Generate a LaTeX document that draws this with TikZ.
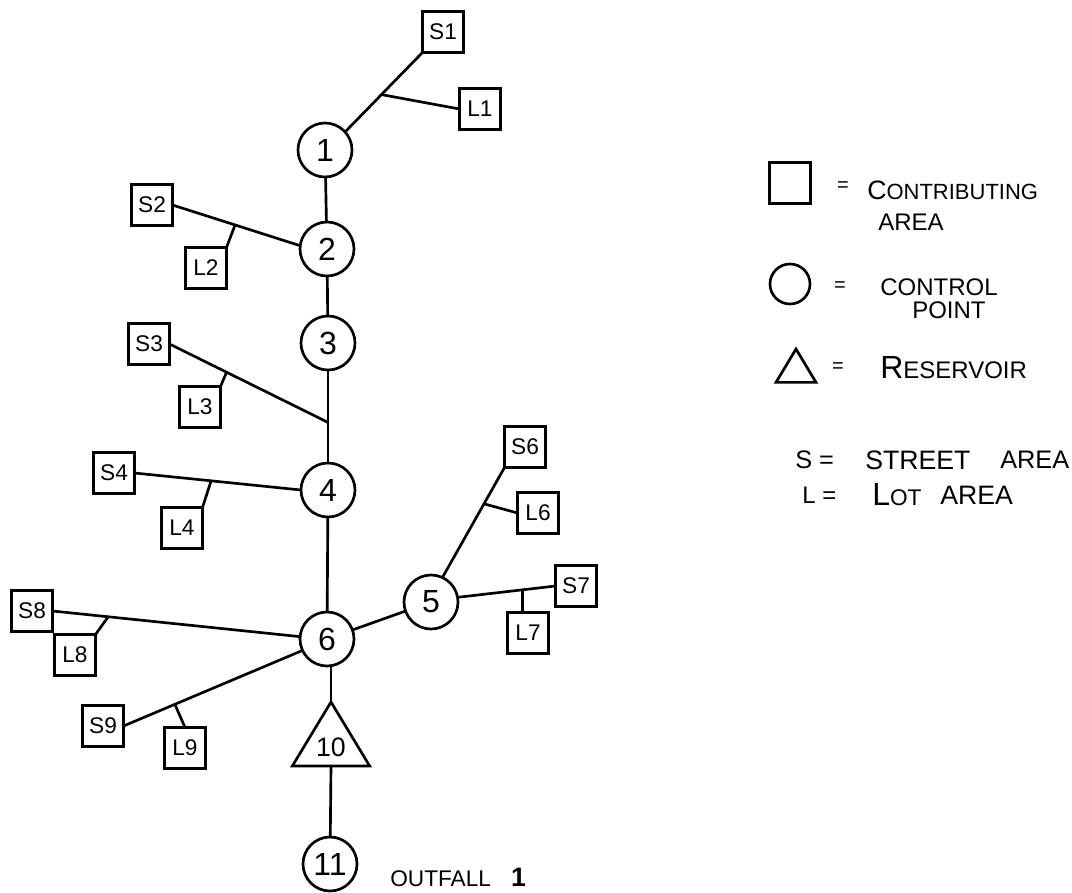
\documentclass[tikz,border=0pt]{standalone}
\usepackage{fontspec}
\setmainfont{Liberation Sans}
\usetikzlibrary{shapes.geometric,calc}
\newcommand{\fsz}[1]{\fontsize{#1}{#1}\selectfont}
\tikzset{
  wire/.style={line width=2pt,line cap=round,black},
  areabox/.style={draw,line width=2pt,minimum size=30.75pt,inner sep=0pt,outer sep=0pt,font=\fsz{17}},
  cpoint/.style={draw,circle,line width=2pt,minimum size=40.5pt,inner sep=0pt,outer sep=0pt,font=\fsz{24}},
  resv/.style={draw,isosceles triangle,isosceles triangle apex angle=62,isosceles triangle stretches,shape border rotate=90,line width=2pt,inner sep=0pt,outer sep=0pt,font=\fsz{20}},
  legtext/.style={anchor=west,inner sep=0pt,font=\fsz{18}},
  legeq/.style={inner sep=0pt,font=\fsz{15}},
}
\begin{document}
\begin{tikzpicture}[x=0.75pt,y=-0.75pt]
\useasboundingbox (0,0) rectangle (1072,893);
% control points
\node[cpoint] (c1) at (325,150) {1};
\node[cpoint] (c2) at (327,249) {2};
\node[cpoint] (c3) at (328,343) {3};
\node[cpoint] (c4) at (328,490) {4};
\node[cpoint] (c5) at (431,602) {5};
\node[cpoint] (c6) at (327,639) {6};
\node[cpoint] (c11) at (330,864) {11};
\node[resv,minimum width=58pt,minimum height=48pt,anchor=apex] (r10) at (331,702) {\raisebox{3pt}{10}};
% areas
\node[areabox] (S1) at (443,32) {S1};
\node[areabox] (L1) at (480,109) {L1};
\node[areabox] (S2) at (152,205) {S2};
\node[areabox] (L2) at (206,268) {L2};
\node[areabox] (S3) at (149,344) {S3};
\node[areabox] (L3) at (200,407) {L3};
\node[areabox] (S4) at (114,473) {S4};
\node[areabox] (L4) at (182,528) {L4};
\node[areabox] (S6) at (525,447) {S6};
\node[areabox] (L6) at (538,513) {L6};
\node[areabox] (S7) at (576,586) {S7};
\node[areabox] (L7) at (528,633) {L7};
\node[areabox] (S8) at (32,611) {S8};
\node[areabox] (L8) at (75,655) {L8};
\node[areabox] (S9) at (103,726) {S9};
\node[areabox] (L9) at (185,748) {L9};
% junctions on the street lines
\coordinate (j1) at ($(S1.south west)!0.53!(c1.42)$);
\coordinate (j2) at ($(S2.east)!0.49!(c2.173)$);
\coordinate (j3b) at ($(c3)!0.54!(c4)$);
\coordinate (j3) at ($(S3.east)!0.36!(j3b)$);
\coordinate (j4) at ($(S4.east)!0.46!(c4.west)$);
\coordinate (j6) at ($(S6.south west)!0.33!(c5.65)$);
\coordinate (j7) at ($(c5.10)!0.66!(S7.west)$);
\coordinate (j8) at ($(S8.east)!0.225!(c6.175)$);
\coordinate (j9) at ($(S9.east)!0.287!(c6.205)$);
% main stem
\draw[wire] (c1) -- (c2);
\draw[wire] (c2) -- (c3);
\draw[wire] (c3) -- (c4);
\draw[wire] (c4) -- (c6);
\draw[wire] (c6) -- (c5);
\draw[wire] (c6.south) ++(4,0) -- (r10.apex);
\draw[wire] (r10.lower side) -- (c11);
% laterals
\draw[wire] (S1.south west) -- (c1.42);
\draw[wire] (j1) -- (L1.west);
\draw[wire] (S2.east) -- (c2.173);
\draw[wire] (j2) -- (L2.north east);
\draw[wire] (S3.east) -- (j3b);
\draw[wire] (j3) -- (L3.north east);
\draw[wire] (S4.east) -- (c4.west);
\draw[wire] (j4) -- (L4.north east);
\draw[wire] (S6.south west) -- (c5.65);
\draw[wire] (j6) -- (L6.west);
\draw[wire] (c5.10) -- (S7.west);
\draw[wire] (j7) -- (j7 |- L7.north);
\draw[wire] (S8.east) -- (c6.175);
\draw[wire] (j8) -- (L8.north east);
\draw[wire] (S9.east) -- (c6.205);
\draw[wire] (j9) -- (L9.north);
% outfall
\node[legtext,font=\fsz{17}] (out) at (390,877) {OUTFALL\hspace{15pt}{\fsz{20}\textbf{1}}};
% legend
\node[areabox] (legS) at (790,183) {};
\node[cpoint,minimum size=30pt] (legC) at (790,284) {};
\node[resv,minimum width=30pt,minimum height=25pt,anchor=apex] (legR) at (796,349) {};
\node[legeq] (e1) at (843,187) {=};
\node[legtext] (t1) at (867,190) {\fsz{20}C\fsz{16.5}ONTRIBUTING};
\node[legtext] (t1b) at (878,222) {AREA};
\node[legeq] (e2) at (840,287) {=};
\node[legtext] (t2) at (880,287) {CONTROL};
\node[legtext] (t2b) at (912,310) {POINT};
\node[legeq] (e3) at (838,368) {=};
\node[legtext] (t3) at (880,368) {\fsz{24}R\fsz{18}ESERVOIR};
\node[legtext,font=\fsz{19}] (t4) at (795,460) {S =};
\node[legtext,font=\fsz{20}] (t4b) at (865,460) {STREET};
\node[legtext,font=\fsz{19}] (t4c) at (1000,460) {AREA};
\node[legtext,font=\fsz{18}] (t5) at (802,495) {L =};
\node[legtext] (t5b) at (872,495) {\fsz{24}L\fsz{17}OT};
\node[legtext,font=\fsz{20}] (t5c) at (940,495) {AREA};
\end{tikzpicture}
\end{document}
